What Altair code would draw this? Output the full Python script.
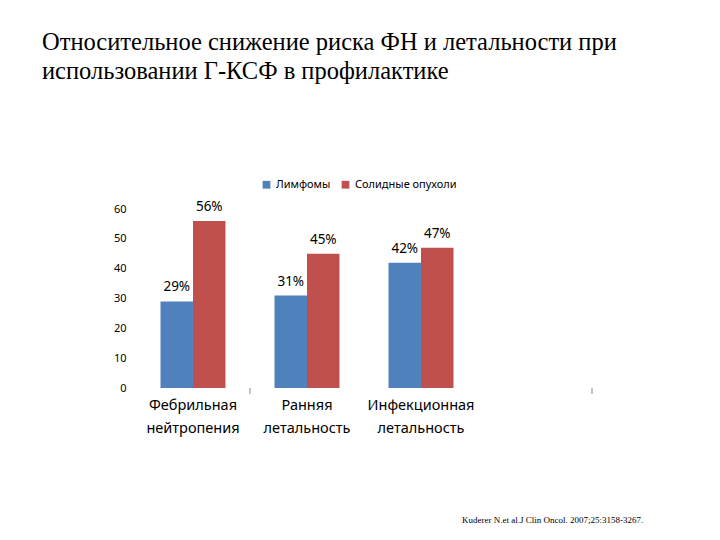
import altair as alt
import pandas as pd

categories = ["Фебрильная нейтропения", "Ранняя летальность", "Инфекционная летальность", ""]
series = ["Лимфомы", "Солидные опухоли"]
lymphoma = [29, 31, 42]
solid = [56, 45, 47]
title_lines = ["Относительное снижение риска ФН и летальности при",
               "использовании Г-КСФ в профилактике"]
citation = "Kuderer N.et al.J Clin Oncol. 2007;25:3158-3267."
colors = ["#4F81BD", "#C0504D"]
tick_after = ["Фебрильная нейтропения", ""]

rows = []
for i, c in enumerate(categories[:3]):
    rows.append({"cat": c, "series": series[0], "value": lymphoma[i]})
    rows.append({"cat": c, "series": series[1], "value": solid[i]})
df = pd.DataFrame(rows)
df["label"] = df["value"].astype(str) + "%"

font = "Noto Sans"
serif = "Liberation Serif, Times New Roman, serif"

x_axis = alt.Axis(title=None, domain=False, labelAngle=0,
                  labelExpr="split(datum.label, ' ')",
                  labelFont=font, labelFontSize=14.5, labelColor="#000",
                  labelLineHeight=23, labelPadding=10, labelBaseline="top",
                  ticks=False)
x_scale = alt.Scale(domain=categories, paddingInner=0.43, paddingOuter=0.215)
x_enc = alt.X("cat:N", scale=x_scale, sort=categories, axis=x_axis)
y_axis = alt.Axis(title=None, domain=False, ticks=False, grid=False,
                  values=[0, 10, 20, 30, 40, 50, 60], labelOverlap=False,
                  labelFont=font, labelFontSize=11, labelColor="#000",
                  labelPadding=10)
y_enc = alt.Y("value:Q", scale=alt.Scale(domain=[0, 60], nice=False), axis=y_axis)
xo_enc = alt.XOffset("series:N", sort=series, scale=alt.Scale(paddingInner=0))

base = alt.Chart(df)
bars = base.mark_bar().encode(
    x=x_enc,
    xOffset=xo_enc,
    y=y_enc,
    color=alt.Color("series:N", scale=alt.Scale(domain=series, range=colors),
                    legend=alt.Legend(title=None, orient="none", direction="horizontal",
                                      legendX=125, legendY=-30, symbolType="square",
                                      symbolSize=60, symbolStrokeWidth=0,
                                      labelFont=font, labelFontSize=11, labelColor="#000",
                                      columnPadding=9, labelOffset=4)),
)
labels = base.mark_text(font=font, fontSize=13.5, baseline="alphabetic", dy=-10, color="#000").encode(
    x=x_enc,
    xOffset=xo_enc,
    y=y_enc,
    text="label:N",
)
ticks = alt.Chart(pd.DataFrame({"cat": tick_after})).mark_rule(
    color="#888", strokeWidth=1, xOffset=57
).encode(
    x=alt.X("cat:N", scale=x_scale, sort=categories, axis=x_axis),
    y=alt.value(179), y2=alt.value(185),
)
cite = alt.Chart(pd.DataFrame({"t": [citation]})).mark_text(
    font=serif, fontSize=9, align="left", baseline="alphabetic", color="#000"
).encode(x=alt.value(326), y=alt.value(314), text="t:N")

chart = alt.layer(bars, labels, ticks, cite).properties(
    width=456, height=179,
    padding={"left": 136, "top": 209, "right": 128, "bottom": 152},
    autosize=alt.AutoSizeParams(type="none"),
    title=alt.TitleParams(text=title_lines, anchor="start", frame="group",
                          font=serif, fontSize=24.5, fontWeight="normal",
                          color="#000", lineHeight=29, dx=-94, offset=95),
).configure_view(stroke=None).configure_title(font=serif, fontWeight="normal")

chart.save("out.html", embed_options={"renderer": "svg", "actions": False})
